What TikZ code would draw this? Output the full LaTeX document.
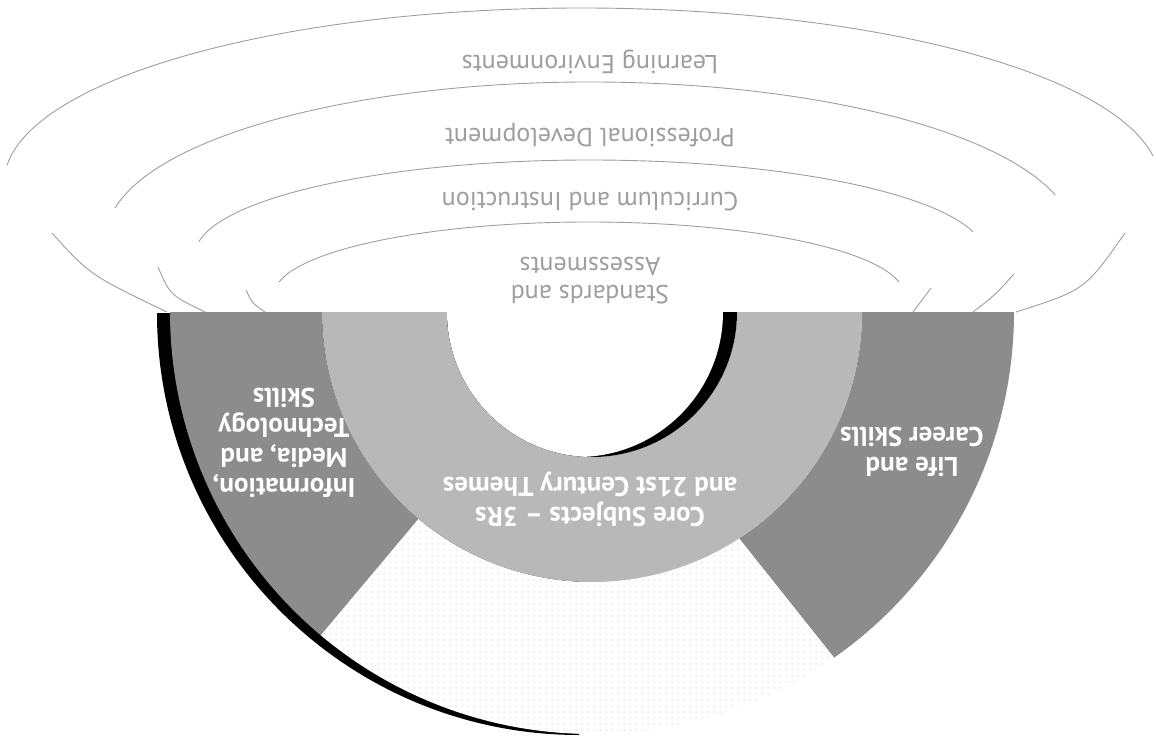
\documentclass[tikz,border=0pt]{standalone}
\usepackage{fontspec}
\setmainfont{PT Sans}
\usetikzlibrary{patterns.meta}

\begin{document}
\begin{tikzpicture}[x=1pt, y=-1pt]
\tikzset{ring/.style =
        {
            line width=0.9pt,
            draw=black!38
        }
}

\tikzset{ring text/.style =
        {
            rotate=180,
            text=black!38,
            font=\fontsize{26}{28}\selectfont,
            align=center
        }
}

\tikzset{skill/.style =
        {
            fill=black!45
        }
}

\tikzset{core/.style =
        {
            fill=black!28
        }
}

\tikzset{learning/.style =
        {
            fill=white,
            postaction={pattern={Dots[distance=6pt, radius=0.5pt]}, pattern color=black!40}
        }
}

\tikzset{skill text/.style =
        {
            rotate=180,
            text=white,
            font=\bfseries\fontsize{27}{30}\selectfont,
            align=center,
            inner sep=0pt
        }
}

\useasboundingbox (0,0) rectangle (1156,736);

% support systems
\foreach \cx / \cy / \a / \b / \s / \e in
    {582/183/578/175/185.9/351.1,
        590/238/484/156/191.1/344.0,
        590/255/395/95/188.1/345.8,
        589/295/315/73/190.2/349.8}
\draw[ring] (\cx,\cy) ++(\s:{\a} and {\b}) arc[start angle=\s, end angle=\e, x radius=\a, y radius=\b];

\draw[ring] (52,233) .. controls (90,275) .. (167,312);
\draw[ring] (158,267) .. controls (170,295) .. (205,312);
\draw[ring] (246,290) .. controls (252,303) .. (265,312);
\draw[ring] (1125,233) .. controls (1085,290) .. (1016,312);
\draw[ring] (1014,274) .. controls (995,295) .. (973,312);
\draw[ring] (931,288) .. controls (922,300) .. (913,312);

\foreach \name / \y / \txt in
    {env/62/Learning Environments,
        pd/135/Professional Development,
        ci/202/Curriculum and Instruction}
\node[ring text] (\name) at (590,\y) {\txt};
\node[ring text] (sa) at (590,281) {Standards and\\Assessments};

% rainbow
\begin{scope}[shift={(579,313)}]
    \fill[black] (0,0) -- (180:422) arc[start angle=180, end angle=90, radius=422] -- cycle;
\end{scope}

\begin{scope}[shift={(592,312)}]
    \fill[skill] (180:270) -- (180:422) arc[start angle=180, end angle=130, radius=422]
        -- (130:270) arc[start angle=130, end angle=180, radius=270] -- cycle;
    \fill[skill] (0:270) -- (0:422) arc[start angle=0, end angle=55, radius=422]
        -- (57:270) arc[start angle=57, end angle=0, radius=270] -- cycle;
    \path[learning] (57:270) -- (55:422) arc[start angle=55, end angle=130, radius=422]
        -- (130:270) arc[start angle=130, end angle=57, radius=270] -- cycle;
    \fill[core] (0:145) -- (0:270) arc[start angle=0, end angle=180, radius=270]
        -- (180:145) arc[start angle=180, end angle=0, radius=145] -- cycle;
    \begin{scope}
        \clip (0:145) arc[start angle=0, end angle=180, radius=145] -- cycle;
        \fill[black] (-150,0) rectangle (150,150);
        \fill[white] (-14,0) circle [radius=145];
    \end{scope}
\end{scope}

\node[skill text] (imt) at (284,443) {Information,\\Media, and\\Technology\\Skills};
\node[skill text] (life) at (912,452) {Life and\\Career Skills};
\node[skill text] (core) at (590,499) {Core Subjects \textendash{} 3Rs\\and 21st Century Themes};

\end{tikzpicture}
\end{document}
